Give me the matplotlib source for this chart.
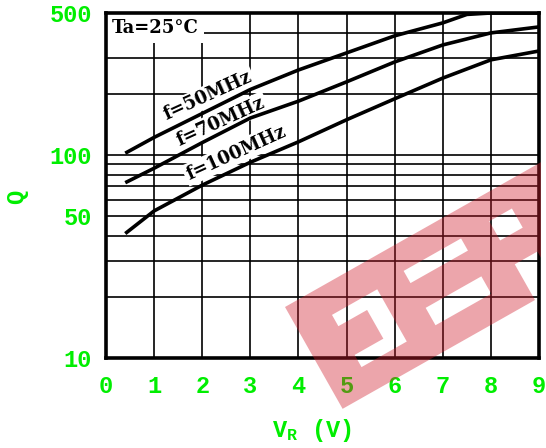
import numpy as np
import matplotlib
matplotlib.use('Agg')
import matplotlib.pyplot as plt
from matplotlib.path import Path
from matplotlib.patches import PathPatch
from matplotlib.transforms import Bbox

# Q vs reverse voltage, Ta = 25C
vr_50 = [0.4, 1, 2, 3, 4, 5, 6, 7, 7.5, 8, 9]
q_50 = [102, 122, 160, 210, 262, 318, 386, 447, 492, 500, 500]
vr_70 = [0.4, 1, 2, 3, 4, 5, 6, 7, 8, 9]
q_70 = [73, 86, 115, 152, 184, 229, 287, 348, 399, 427]
vr_100 = [0.4, 1, 2, 3, 4, 5, 6, 7, 8, 9]
q_100 = [41, 53, 71, 92, 116, 149, 189, 239, 294, 325]

x_ticks = [0, 1, 2, 3, 4, 5, 6, 7, 8, 9]
y_major = [10, 50, 100, 500]
y_minor = [20, 30, 40, 60, 70, 80, 90, 200, 300, 400]

GREEN = '#00ee00'
mono = 'Liberation Mono'
serif = 'DejaVu Serif'

plt.rcParams['mathtext.fontset'] = 'custom'
plt.rcParams['mathtext.rm'] = 'Liberation Mono:bold'
plt.rcParams['mathtext.it'] = 'Liberation Mono:bold'

fig = plt.figure(figsize=(5.46, 4.48), dpi=100)
ax = fig.add_axes([106 / 546, 1 - 358 / 448, 433 / 546, 345 / 448])

ax.set_yscale('log')
ax.set_xlim(0, 9)
ax.set_ylim(10, 500)

ax.plot(vr_50, q_50, color='black', lw=2.6, solid_capstyle='butt', zorder=6)
ax.plot(vr_70, q_70, color='black', lw=2.6, solid_capstyle='butt', zorder=6)
ax.plot(vr_100, q_100, color='black', lw=2.6, solid_capstyle='butt', zorder=6)

ax.set_xticks(x_ticks)
ax.set_xticklabels([str(v) for v in x_ticks])
ax.set_yticks(y_major)
ax.set_yticklabels([str(v) for v in y_major])
ax.set_yticks(y_minor, minor=True)
ax.set_yticklabels([], minor=True)
ax.tick_params(which='both', length=0)
ax.tick_params(axis='x', pad=12)
ax.tick_params(axis='y', pad=10)
for lab in ax.get_xticklabels() + ax.get_yticklabels():
    lab.set_fontfamily(mono)
    lab.set_fontweight('bold')
    lab.set_fontsize(17)
    lab.set_color(GREEN)

ax.grid(True, which='both', color='black', lw=1.2)
ax.set_axisbelow(True)
for s in ax.spines.values():
    s.set_linewidth(2.6)
    s.set_zorder(7)

box = dict(facecolor='white', edgecolor='none', pad=1.5)
ax.text(0.12, 420, 'Ta=25°C', family=serif, weight='bold', fontsize=13,
        ha='left', va='center', bbox=dict(facecolor='white', edgecolor='none', pad=4), zorder=4)
ax.text(2.12, 195, 'f=50MHz', family=serif, weight='bold', fontsize=13,
        rotation=24.5, ha='center', va='center', rotation_mode='anchor', bbox=box, zorder=4)
ax.text(2.39, 146, 'f=70MHz', family=serif, weight='bold', fontsize=13,
        rotation=24.5, ha='center', va='center', rotation_mode='anchor', bbox=box, zorder=4)
ax.text(2.70, 102, 'f=100MHz', family=serif, weight='bold', fontsize=13,
        rotation=24.5, ha='center', va='center', rotation_mode='anchor', bbox=box, zorder=4)

fig.text(17 / 546, 1 - 197 / 448, 'Q', family=mono, weight='bold', fontsize=17,
         color=GREEN, rotation=90, ha='center', va='center')
fig.text(312 / 546, 1 - 430 / 448, r'$\mathrm{V_R}$ (V)', family=mono, weight='bold',
         fontsize=17, color=GREEN, ha='center', va='center')

# watermark band (decoration), built in a rotated local frame in pixels
ang = np.deg2rad(29.5)
U = np.array([np.cos(ang), -np.sin(ang)])
V = np.array([np.sin(ang), np.cos(ang)])
O = np.array([285.0, 307.0])


def to_fig(pts):
    out = []
    for u, v in pts:
        p = O + u * U + v * V
        out.append((p[0] / 546, 1 - p[1] / 448))
    return out


def area(pts):
    a = 0
    for i in range(len(pts)):
        x0, y0 = pts[i]
        x1, y1 = pts[(i + 1) % len(pts)]
        a += x0 * y1 - x1 * y0
    return a


outer = [(0, 0), (330, 0), (330, 117), (247, 117), (247, 76), (221, 76), (221, 117), (0, 117)]
holes = [
    [(37, 30), (89, 30), (89, 90), (37, 90), (37, 76), (70, 76), (70, 43), (37, 43)],
    [(121, 27), (187, 27), (187, 41), (121, 41)],
    [(122, 70), (186, 70), (186, 90), (122, 90)],
    [(220, 26), (246, 26), (246, 48), (220, 48)],
]
verts, codes = [], []
sign = np.sign(area(outer))
for poly in [outer] + holes:
    if poly is not outer and np.sign(area(poly)) == sign:
        poly = poly[::-1]
    fp = to_fig(poly)
    verts += fp + [fp[0]]
    codes += [Path.MOVETO] + [Path.LINETO] * (len(fp) - 1) + [Path.CLOSEPOLY]
wm = PathPatch(Path(verts, codes), facecolor='#d01f2e', edgecolor='none', alpha=0.4,
               transform=fig.transFigure, zorder=20)
fig.add_artist(wm)
wm.set_clip_box(Bbox([[0, 0], [541, 448]]))

fig.savefig('out.png', dpi=100)
